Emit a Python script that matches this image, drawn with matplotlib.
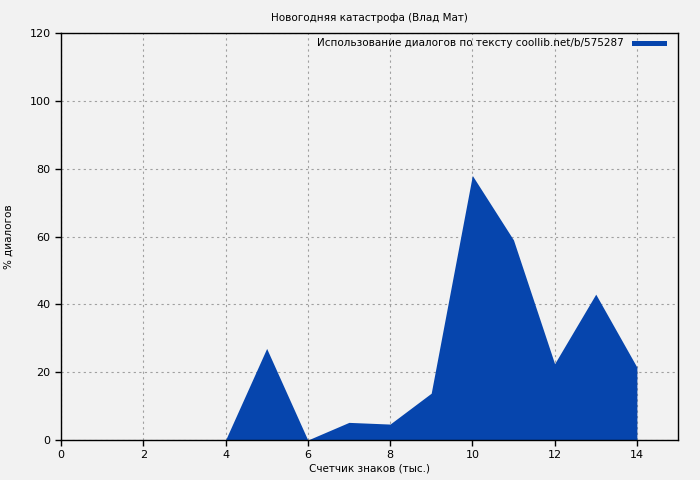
import matplotlib
matplotlib.use('Agg')
import matplotlib.pyplot as plt

x = [0, 1, 2, 3, 4, 5, 6, 7, 8, 9, 10, 11, 12, 13, 14]
y = [0, 0, 0, 0, 0, 27, 0, 5.2, 4.7, 13.8, 78, 59, 22.5, 43, 21.5]
xticks = [0, 2, 4, 6, 8, 10, 12, 14]
yticks = [0, 20, 40, 60, 80, 100, 120]

bg = '#f2f2f2'
blue = '#0645ad'

fig = plt.figure(figsize=(7, 4.8), dpi=100, facecolor=bg)
ax = fig.add_axes([0.0871, 0.0833, 0.8815, 0.8479], facecolor=bg)

ax.fill_between(x, y, 0, color=blue, linewidth=0, zorder=2,
                label='Использование диалогов по тексту coollib.net/b/575287')

ax.set_xlim(0, 15)
ax.set_ylim(0, 120)
ax.set_xticks(xticks)
ax.set_yticks(yticks)
ax.grid(True, color='#a0a0a0', linestyle=(0, (2, 3)), linewidth=0.8, zorder=1)
ax.tick_params(labelsize=8, length=4, width=1, direction='out', colors='black')
for s in ax.spines.values():
    s.set_linewidth(1.0)
    s.set_zorder(3)

ax.set_title('Новогодняя катастрофа (Влад Мат)', fontsize=7.5, pad=9)
ax.set_xlabel('Счетчик знаков (тыс.)', fontsize=7.5, labelpad=2)
ax.set_ylabel('% диалогов', fontsize=7.5, va='center')
ax.yaxis.set_label_coords(-0.084, 0.5)

leg = ax.legend(loc='upper right', frameon=False, fontsize=7.5,
                handlelength=3.3, markerfirst=False, borderaxespad=0.1,
                handletextpad=0.8, bbox_to_anchor=(0.99, 1.0))
for h in leg.legend_handles:
    h.set_height(4)

fig.savefig('out.png', dpi=100, facecolor=bg)
